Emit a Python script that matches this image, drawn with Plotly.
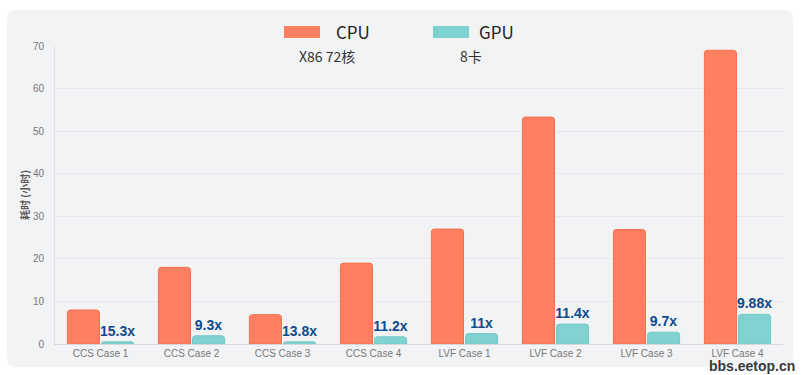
import plotly.graph_objects as go

categories = ["CCS Case 1", "CCS Case 2", "CCS Case 3", "CCS Case 4",
              "LVF Case 1", "LVF Case 2", "LVF Case 3", "LVF Case 4"]
cpu_hours = [8.0, 18.0, 6.9, 19.0, 27.0, 53.3, 26.9, 69.0]
gpu_hours = [0.52, 1.94, 0.5, 1.7, 2.45, 4.68, 2.77, 6.98]
speedup_labels = ["15.3x", "9.3x", "13.8x", "11.2x", "11x", "11.4x", "9.7x", "9.88x"]
y_ticks = [0, 10, 20, 30, 40, 50, 60, 70]

W, H = 802, 375
ML, MR, MT, MB = 55, 19, 46, 31
PW, PH = W - ML - MR, H - MT - MB

def px(x):
    return (x - ML) / PW

def py(y):
    return (H - MB - y) / PH

CPU_COLOR = "#FF8061"
GPU_COLOR = "#7FD2D0"
CJK = "Noto Sans CJK SC, Noto Sans, sans-serif"

fig = go.Figure()
fig.add_trace(go.Bar(
    x=categories, y=cpu_hours, name="CPU",
    marker=dict(color=CPU_COLOR, line=dict(color="#F5714F", width=1), cornerradius=3),
    showlegend=False,
))
fig.add_trace(go.Bar(
    x=categories, y=gpu_hours, name="GPU",
    marker=dict(color=GPU_COLOR, line=dict(color="#74C9C7", width=1), cornerradius=3),
    text=speedup_labels, textposition="outside", cliponaxis=False, constraintext="none",
    textfont=dict(family="Liberation Sans, Arial, sans-serif", size=14, color="#0E4A8C", weight="bold"),
    showlegend=False,
))

# rounded card background
x0, x1, y0, y1, r = 7, 793, 10, 367, 9
path = (f"M {px(x0 + r)} {py(y0)} L {px(x1 - r)} {py(y0)} "
        f"Q {px(x1)} {py(y0)} {px(x1)} {py(y0 + r)} "
        f"L {px(x1)} {py(y1 - r)} Q {px(x1)} {py(y1)} {px(x1 - r)} {py(y1)} "
        f"L {px(x0 + r)} {py(y1)} Q {px(x0)} {py(y1)} {px(x0)} {py(y1 - r)} "
        f"L {px(x0)} {py(y0 + r)} Q {px(x0)} {py(y0)} {px(x0 + r)} {py(y0)} Z")
shapes = [dict(type="path", path=path, xref="paper", yref="paper",
               fillcolor="#F2F3F5", line=dict(width=0), layer="below")]
# legend swatches
shapes.append(dict(type="rect", xref="paper", yref="paper", x0=px(284), x1=px(320),
                   y0=py(38), y1=py(26), fillcolor=CPU_COLOR, line=dict(width=0)))
shapes.append(dict(type="rect", xref="paper", yref="paper", x0=px(433), x1=px(469),
                   y0=py(38), y1=py(26), fillcolor=GPU_COLOR, line=dict(width=0)))

annotations = [
    dict(text="CPU", x=px(334), y=py(32), xref="paper", yref="paper", xanchor="left",
         yanchor="middle", showarrow=False, font=dict(family=CJK, size=17, color="#222")),
    dict(text="GPU", x=px(477), y=py(32), xref="paper", yref="paper", xanchor="left",
         yanchor="middle", showarrow=False, font=dict(family=CJK, size=17, color="#222")),
    dict(text="X86 72核", x=px(327), y=py(56), xref="paper", yref="paper", xanchor="center",
         yanchor="middle", showarrow=False, font=dict(family=CJK, size=14, color="#333")),
    dict(text="8卡", x=px(471), y=py(56), xref="paper", yref="paper", xanchor="center",
         yanchor="middle", showarrow=False, font=dict(family=CJK, size=14, color="#333")),
    dict(text="bbs.eetop.cn", x=px(797), y=py(366), xref="paper", yref="paper", xanchor="right",
         yanchor="middle", showarrow=False,
         font=dict(family="Liberation Sans Narrow, Liberation Sans, sans-serif", size=14,
                   color="#3a3a3a", weight="bold")),
]

fig.update_layout(
    width=W, height=H,
    margin=dict(l=ML, r=MR, t=MT, b=MB),
    paper_bgcolor="white", plot_bgcolor="rgba(0,0,0,0)",
    barmode="group", bargap=0.25, bargroupgap=0.06,
    shapes=shapes, annotations=annotations,
    xaxis=dict(type="category", showgrid=False, showline=True, linecolor="#D5D7DB",
               linewidth=1, ticks="", tickfont=dict(family="Liberation Sans, Arial", size=10, color="#777")),
    yaxis=dict(range=[0, 70], tickvals=y_ticks, showgrid=True, gridcolor="#E6E7EA",
               zeroline=False, showline=True, linecolor="#E0E1E4", ticks="",
               ticklabelstandoff=8,
               tickfont=dict(family="Liberation Sans, Arial", size=10, color="#777"),
               title=dict(text="耗时 (小时)", standoff=1,
                          font=dict(family=CJK, size=10, color="#555", weight="bold"))),
)

fig.write_html("out.html", config={"displayModeBar": False},
               post_script="document.body.style.margin='0';")
